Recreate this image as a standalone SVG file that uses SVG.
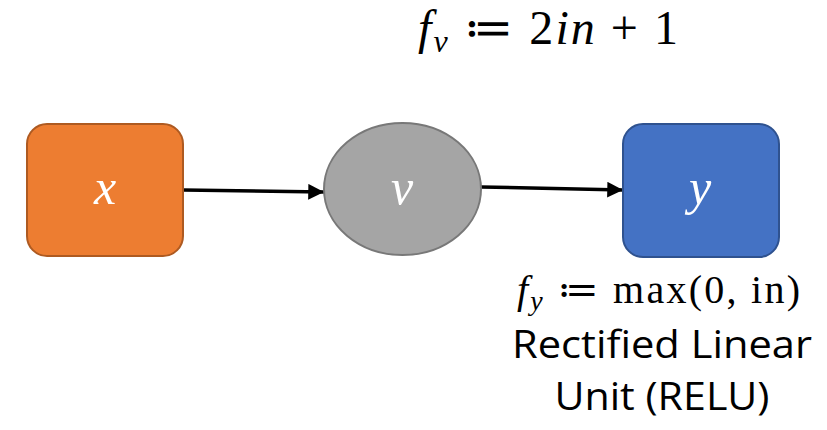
<svg xmlns="http://www.w3.org/2000/svg" width="827" height="430" viewBox="0 0 827 430">
<style>
.math{font-family:"Liberation Serif","DejaVu Serif",serif;fill:#000}
.it{font-style:italic}
.lbl{font-family:"Liberation Serif","DejaVu Serif",serif;font-style:italic;fill:#fff;font-size:50px;text-anchor:middle}
.cap{font-family:"Open Sans","Liberation Sans",sans-serif;font-size:38px;fill:#000;text-anchor:middle}
.edge{stroke:#000;stroke-width:3.5;fill:none}
</style>
<defs>
<marker id="ah" viewBox="0 0 10 10" refX="10" refY="5" markerWidth="4.5" markerHeight="4.5" orient="auto" markerUnits="strokeWidth">
<path d="M0,0 L10,5 L0,10 z" fill="#000"/>
</marker>
</defs>
<g id="connectors">
<line class="edge" x1="183" y1="190" x2="324" y2="192" marker-end="url(#ah)"/>
<line class="edge" x1="481" y1="187" x2="623" y2="190" marker-end="url(#ah)"/>
</g>
<g id="node-x">
<rect x="27" y="124" width="156" height="132" rx="20" fill="#ed7d31" stroke="#ae5a21" stroke-width="2"/>
<text class="lbl" x="105" y="204">x</text>
</g>
<g id="node-v">
<ellipse cx="402.5" cy="189" rx="78.5" ry="66" fill="#a5a5a5" stroke="#787878" stroke-width="2"/>
<text class="lbl" x="402" y="204">v</text>
</g>
<g id="node-y">
<rect x="623" y="124" width="156" height="133" rx="20" fill="#4472c4" stroke="#2f528f" stroke-width="2"/>
<text class="lbl" x="700" y="204">y</text>
</g>
<g id="label-v">
<text class="math" x="418" y="44" font-size="48" textLength="260" lengthAdjust="spacing"><tspan class="it">f</tspan><tspan class="it" font-size="32" dy="8">v</tspan><tspan dy="-8"> ≔ 2</tspan><tspan class="it">in</tspan><tspan> + 1</tspan></text>
</g>
<g id="label-y">
<text class="math" x="517" y="303" font-size="40" textLength="283" lengthAdjust="spacing"><tspan class="it">f</tspan><tspan class="it" font-size="28" dy="7">y</tspan><tspan dy="-7"> ≔ max(0, in)</tspan></text>
<text class="cap" x="662" y="358" textLength="300" lengthAdjust="spacingAndGlyphs">Rectified Linear</text>
<text class="cap" x="662" y="410" textLength="215" lengthAdjust="spacingAndGlyphs">Unit (RELU)</text>
</g>
</svg>
